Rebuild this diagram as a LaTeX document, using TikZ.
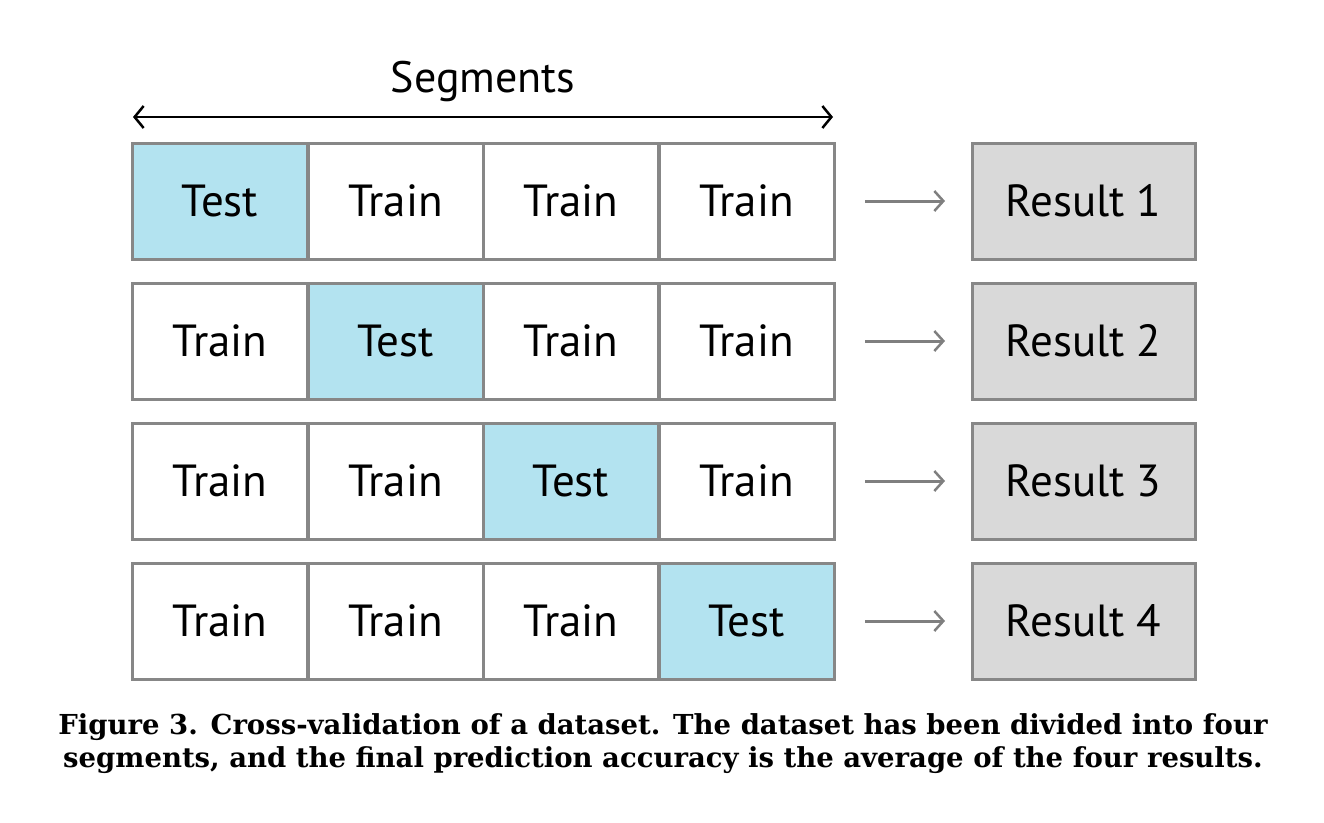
\documentclass[tikz,border=0pt]{standalone}
\usepackage{fontspec}
\setmainfont{DejaVu Serif}
\newfontfamily\cellfont{PT Sans}
\usetikzlibrary{arrows.meta}
\definecolor{cellborder}{HTML}{878787}
\definecolor{testfill}{HTML}{B3E3F0}
\definecolor{resfill}{HTML}{D9D9D9}
\definecolor{arrgray}{HTML}{7F7F7F}
\begin{document}
\begin{tikzpicture}[x=1pt,y=-1pt,
  cellbox/.style={draw=cellborder, line width=3pt, minimum width=175pt, minimum height=116pt, inner sep=0pt, font=\cellfont\fontsize{45}{52}\selectfont},
  trainbox/.style={cellbox, fill=white},
  testbox/.style={cellbox, fill=testfill},
  resbox/.style={cellbox, fill=resfill, minimum width=223pt},
  resarrow/.style={draw=arrgray, line width=3pt, -{Straight Barb[length=9pt,width=20pt,line width=2.5pt]}},
]
\useasboundingbox (0,0) rectangle (1324,822);
\foreach \r in {1,2,3,4} {
  \pgfmathsetmacro{\yc}{201+140*(\r-1)}
  \foreach \c in {1,2,3,4} {
    \pgfmathsetmacro{\xc}{220+175.5*(\c-1)}
    \ifnum\r=\c
      \node[testbox] (c\r\c) at (\xc,\yc) {Test};
    \else
      \node[trainbox] (c\r\c) at (\xc,\yc) {Train};
    \fi
  }
  \node[resbox] (res\r) at (1083.5,\yc) {Result \r};
  \coordinate (as\r) at (865,\yc);
  \coordinate (ae\r) at (945,\yc);
  \draw[resarrow] (as\r) -- (ae\r);
}
\coordinate (sl) at (133,117);
\coordinate (sr) at (833,117);
\draw[line width=2.5pt, {Straight Barb[length=9pt,width=22pt,line width=2.5pt]}-{Straight Barb[length=9pt,width=22pt,line width=2.5pt]}] (sl) -- (sr);
\node[font=\cellfont\fontsize{44}{50}\selectfont, anchor=base] (seg) at (483,92) {Segments};
\node[font=\bfseries\fontsize{27.5}{33}\selectfont, align=center] (cap) at (663,744) {Figure 3. Cross-validation of a dataset. The dataset has been divided into four\\segments, and the final prediction accuracy is the average of the four results.};
\end{tikzpicture}
\end{document}
